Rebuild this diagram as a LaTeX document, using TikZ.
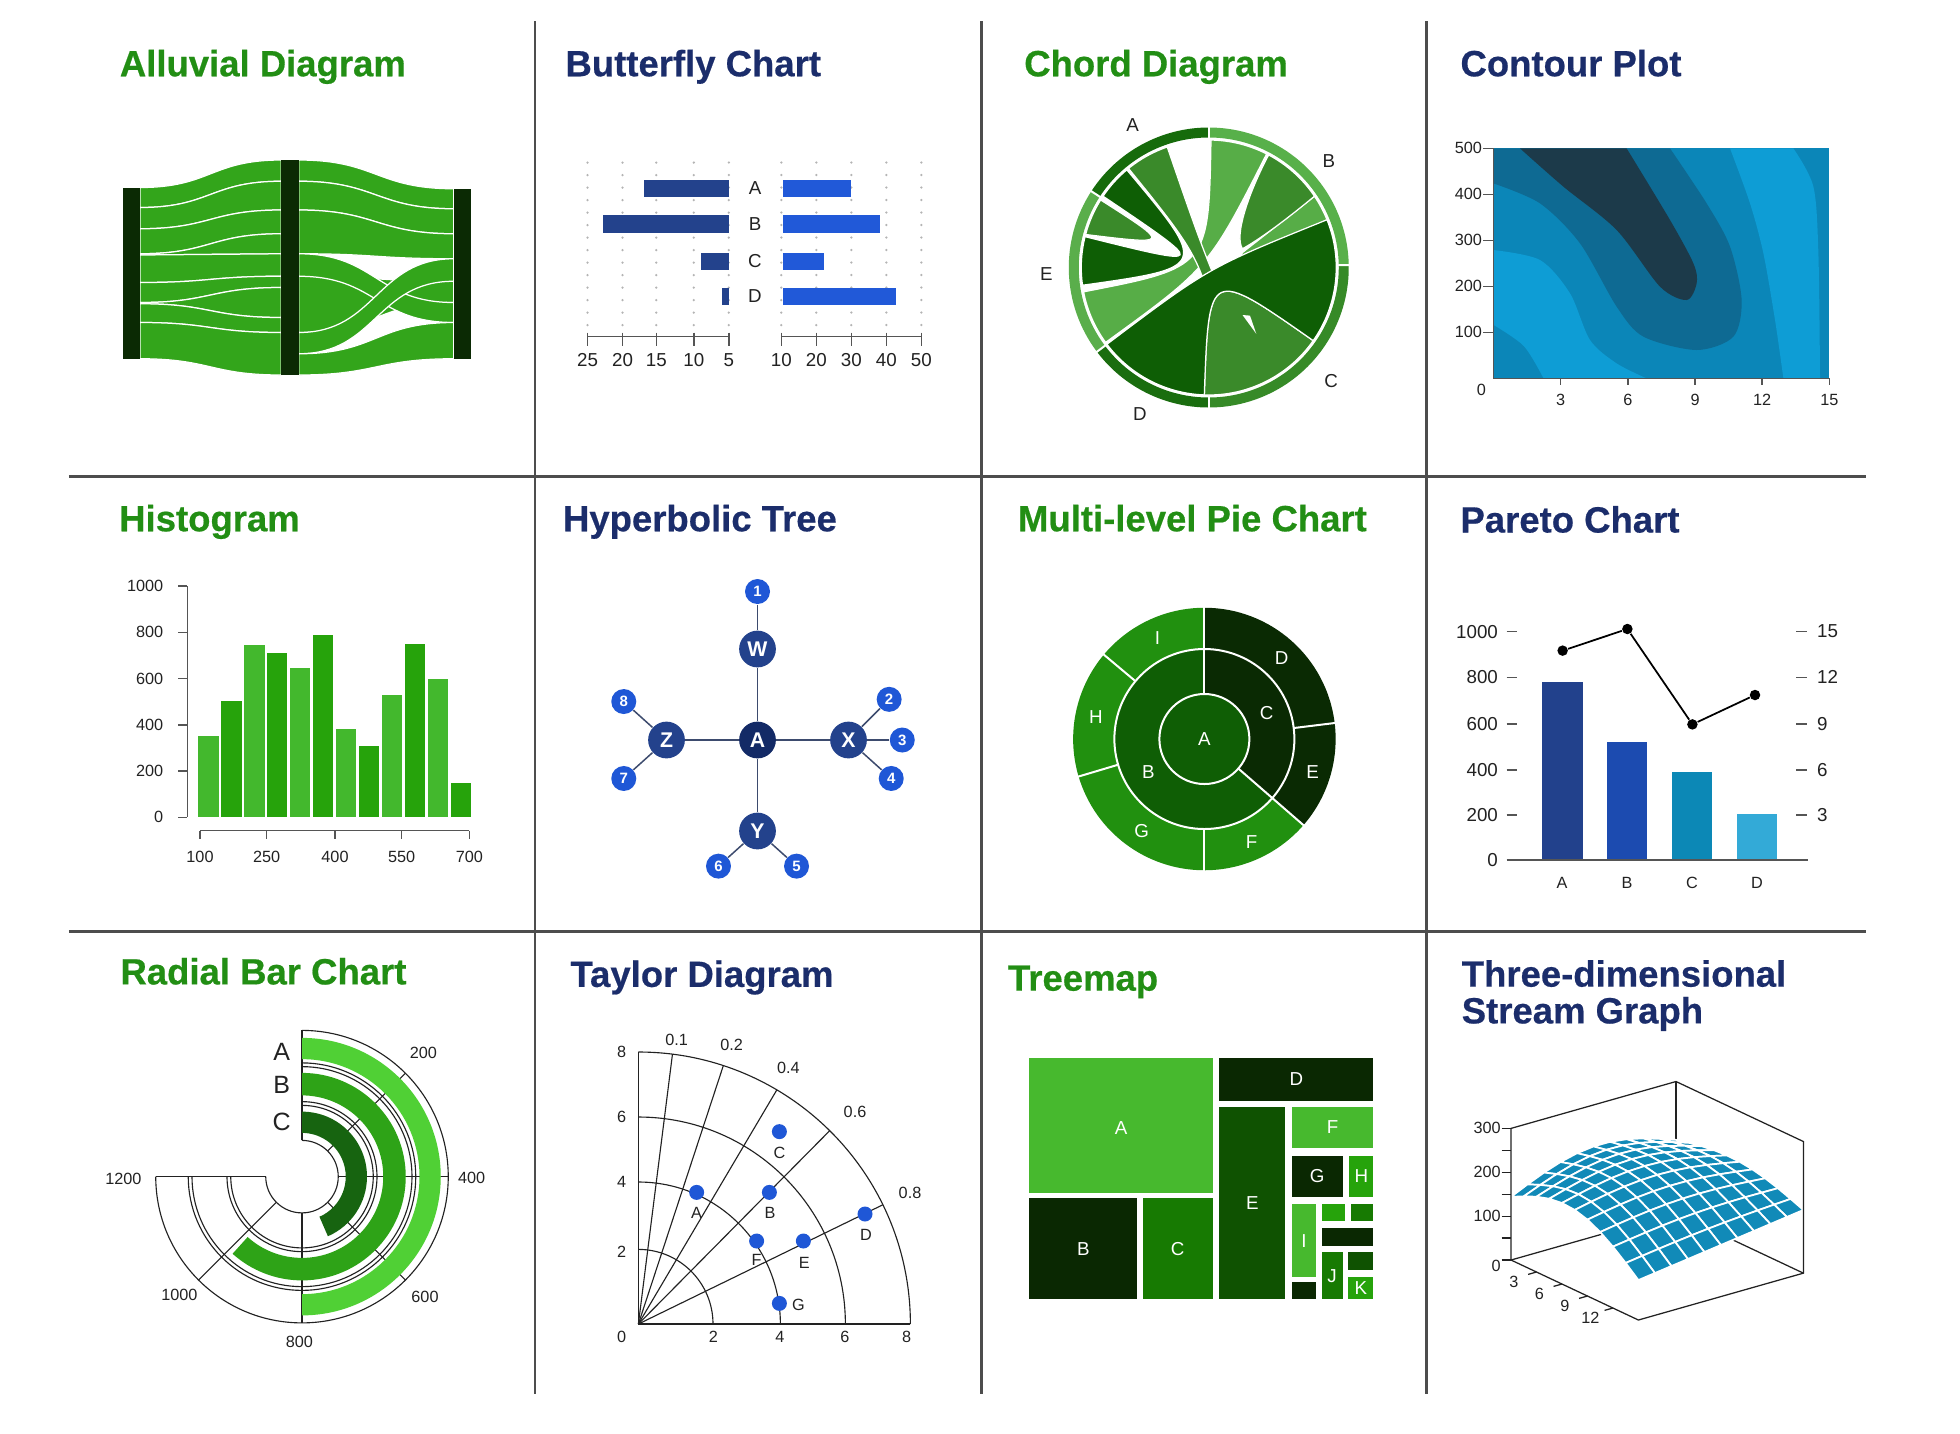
\documentclass[tikz,border=0pt]{standalone}
\usepackage{fontspec}
\setmainfont{Liberation Sans}
\newfontfamily\ttlfont[BoldFeatures={FakeBold=0.5}]{Liberation Sans}
\usetikzlibrary{positioning}

\definecolor{ttlgreen}{HTML}{228E14}
\definecolor{ttlnavy}{HTML}{1B2D6B}
\definecolor{rulegray}{HTML}{4D4D4D}
\definecolor{lblgray}{HTML}{222222}
\definecolor{axisgray}{HTML}{555555}
\definecolor{alluvgreen}{HTML}{33A51B}
\definecolor{alluvbar}{HTML}{0B2A04}
\definecolor{bfnavy}{HTML}{23428C}
\definecolor{bfblue}{HTML}{2159D8}
\definecolor{dotgray}{HTML}{B4B4B4}
\definecolor{ringA}{HTML}{166B0B}
\definecolor{ringB}{HTML}{58B04A}
\definecolor{ringC}{HTML}{368A27}
\definecolor{ringD}{HTML}{1A6D0F}
\definecolor{ringE}{HTML}{5AAE4B}
\definecolor{chdark}{HTML}{0E5E05}
\definecolor{chmid}{HTML}{3A8A2A}
\definecolor{chlight}{HTML}{57AD47}
\definecolor{conA}{HTML}{1C3A4A}
\definecolor{conB}{HTML}{0E6A93}
\definecolor{conC}{HTML}{0B86B8}
\definecolor{conD}{HTML}{0E9DD5}
\definecolor{hlight}{HTML}{43B82D}
\definecolor{hdark}{HTML}{26A30B}
\definecolor{hyroot}{HTML}{132A66}
\definecolor{hymid}{HTML}{23428C}
\definecolor{hyleaf}{HTML}{1F57D6}
\definecolor{hyedge}{HTML}{3D4B6E}
\definecolor{piedark}{HTML}{0A2A03}
\definecolor{piemid}{HTML}{0F5E05}
\definecolor{pielight}{HTML}{21900F}
\definecolor{parA}{HTML}{22418C}
\definecolor{parB}{HTML}{1C4BB0}
\definecolor{parC}{HTML}{0C88B6}
\definecolor{parD}{HTML}{33AAD7}
\definecolor{radA}{HTML}{50D035}
\definecolor{radB}{HTML}{2EA317}
\definecolor{radC}{HTML}{176410}
\definecolor{tmA}{HTML}{47B92E}
\definecolor{tmB}{HTML}{0A2802}
\definecolor{tmC}{HTML}{177A02}
\definecolor{tmE}{HTML}{0F5201}
\definecolor{tmH}{HTML}{26A30B}
\definecolor{surfblue}{HTML}{118AB8}

\newcommand{\flowband}[6]{%
  \filldraw[flow] (#1,#2) .. controls ({(#1+#4)/2},#2) and ({(#1+#4)/2},#5) .. (#4,#5)
    -- (#4,#6) .. controls ({(#1+#4)/2},#6) and ({(#1+#4)/2},#3) .. (#1,#3) -- cycle;}
\newcommand{\annseg}[5]{%
  \fill[#1] (#2:#5) arc[start angle=#2,end angle=#3,radius=#5]
    -- (#3:#4) arc[start angle=#3,end angle=#2,radius=#4] -- cycle;}
\newcommand{\ribbon}[5]{%
  \filldraw[#1, draw=white, line width=0.5pt] (#2:102) arc[start angle=#2,end angle=#3,radius=102]
    .. controls (0,0) .. (#4:102) arc[start angle=#4,end angle=#5,radius=102]
    .. controls (0,0) .. (#2:102) -- cycle;}
\newcommand{\sfpt}[3]{%
  \pgfmathsetmacro{\sfh}{(1-#2)*(1-#3)*144+#2*(1-#3)*167+(1-#2)*#3*91+#2*#3*144+(65-35*#2)*sin(180*#3)+50*sin(180*#2)*(1-#3)}%
  \coordinate (#1) at ({1208.8+132*#2+101.9*#3},{1008-37.5*#2+48*#3-0.351*\sfh});}

\begin{document}
\begin{tikzpicture}[x=0.5pt,y=-0.5pt]
    \tikzstyle{ttl}=[anchor=base west, inner sep=0pt, font=\ttlfont\fontsize{14.6}{16}\selectfont\bfseries]
    \tikzstyle{sep}=[draw=rulegray, line width=1pt]
    \tikzstyle{tick}=[inner sep=0pt, text=lblgray, font=\fontsize{6.5}{7}\selectfont]
    \tikzstyle{bigtick}=[tick, font=\fontsize{7.5}{8}\selectfont]
    \tikzstyle{axline}=[draw=axisgray, line width=0.6pt]
    \tikzstyle{flow}=[fill=alluvgreen, draw=white, line width=0.5pt]
    \tikzstyle{inlbl}=[inner sep=0pt, text=white, font=\fontsize{7.5}{8}\selectfont]
    \tikzstyle{hnode}=[circle, inner sep=0pt, text=white, font=\fontsize{8.5}{9}\selectfont\bfseries]
    \tikzstyle{hroot}=[hnode, fill=hyroot, minimum size=14.7pt]
    \tikzstyle{hmid}=[hnode, fill=hymid, minimum size=14.7pt]
    \tikzstyle{hleaf}=[hnode, fill=hyleaf, minimum size=10pt, font=\fontsize{6}{6}\selectfont\bfseries]
    \tikzstyle{edge from parent}=[draw=hyedge, line width=0.6pt]
    \tikzstyle{level 1}=[level distance=36.4pt, sibling distance=0pt]
    \tikzstyle{level 2}=[level distance=23pt, sibling distance=0pt]
    \tikzstyle{pdot}=[circle, fill=black, inner sep=0pt, minimum size=4.2pt]
    \tikzstyle{pline}=[draw=black, line width=0.7pt]
    \tikzstyle{rgrid}=[draw=lblgray, line width=0.45pt]
    \tikzstyle{tgrid}=[draw=lblgray, line width=0.45pt]
    \tikzstyle{tdot}=[circle, fill=hyleaf, inner sep=0pt, minimum size=6pt]
    \tikzstyle{surf}=[fill=surfblue, draw=white, line width=0.7pt, line join=round]
    \tikzstyle{box3}=[draw=lblgray, line width=0.5pt]

    \useasboundingbox (0,0) rectangle (1568,1147);
    \fill[white] (0,0) rectangle (1568,1147);

    \draw[sep] (428,17) -- (428,1115);
    \draw[sep] (785,17) -- (785,1115);
    \draw[sep] (1141,17) -- (1141,1115);
    \draw[sep] (55,381) -- (1493,381);
    \draw[sep] (55,745) -- (1493,745);

    \node[ttl, text=ttlgreen] (tAlluvial) at (95.5,61) {Alluvial Diagram};
    \node[ttl, text=ttlnavy] (tButterfly) at (452,61) {Butterfly Chart};
    \node[ttl, text=ttlgreen] (tChord) at (819,61) {Chord Diagram};
    \node[ttl, text=ttlnavy] (tContour) at (1168,61) {Contour Plot};
    \node[ttl, text=ttlgreen] (tHisto) at (95,425) {Histogram};
    \node[ttl, text=ttlnavy] (tHyper) at (450,425) {Hyperbolic Tree};
    \node[ttl, text=ttlgreen] (tPie) at (814,425) {Multi-level Pie Chart};
    \node[ttl, text=ttlnavy] (tPareto) at (1168,426) {Pareto Chart};
    \node[ttl, text=ttlgreen] (tRadial) at (96,787.5) {Radial Bar Chart};
    \node[ttl, text=ttlnavy] (tTaylor) at (456,789.5) {Taylor Diagram};
    \node[ttl, text=ttlgreen] (tTreemap) at (806,792.5) {Treemap};
    \node[ttl, text=ttlnavy] (tStream) at (1169,789.3) {Three-dimensional};
    \node[ttl, text=ttlnavy] (tStreamB) at (1169,818.7) {Stream Graph};

    \flowband{112}{150}{166}{225}{128}{145}
    \flowband{112}{166}{183}{225}{145}{168}
    \flowband{112}{183}{203}{225}{168}{187}
    \flowband{112}{203}{204}{225}{187}{203}
    \flowband{112}{204}{226}{225}{203}{221}
    \flowband{112}{226}{242}{225}{221}{230}
    \flowband{112}{242}{243}{225}{230}{254}
    \flowband{112}{243}{258}{225}{254}{266}
    \flowband{112}{258}{287}{225}{266}{300}
    \flowband{239}{128}{145}{363}{151}{167}
    \flowband{239}{145}{168}{363}{167}{187}
    \flowband{239}{168}{203}{363}{187}{207}
    \flowband{239}{221}{266}{363}{225}{242}
    \flowband{239}{203}{221}{363}{242}{258}
    \flowband{239}{266}{283}{363}{207}{225}
    \flowband{239}{283}{300}{363}{258}{287}
    \fill[alluvbar] (98,150) rectangle (112,287);
    \fill[alluvbar] (225,128) rectangle (239,300);
    \fill[alluvbar] (363,151) rectangle (377,287);

    \foreach \x in {470,498,525,555,583,625,653,681,709,737}
        \foreach \y in {130,140,...,260} \fill[dotgray] (\x,\y) circle[radius=1];
    \fill[bfnavy] (515,144) rectangle (583,157.3);
    \fill[bfnavy] (482,172) rectangle (583,186);
    \fill[bfnavy] (560.5,202) rectangle (583,216);
    \fill[bfnavy] (577.6,230) rectangle (583,244);
    \fill[bfblue] (626,144) rectangle (681,157.3);
    \fill[bfblue] (626,172) rectangle (704,186);
    \fill[bfblue] (626,202) rectangle (659,216);
    \fill[bfblue] (626,230) rectangle (717,244);
    \node[bigtick] (bfA) at (604,150.5) {A};
    \node[bigtick] (bfB) at (604,179) {B};
    \node[bigtick] (bfC) at (604,209) {C};
    \node[bigtick] (bfD) at (604,237) {D};
    \draw[axline] (470,269) -- (583,269);
    \draw[axline] (625,269) -- (737,269);
    \foreach \x/\l in {470/25,498/20,525/15,555/10,583/5,625/10,653/20,681/30,709/40,737/50}{
        \draw[axline] (\x,266) -- (\x,277);
        \node[bigtick] (bx\x) at (\x,288) {\l};
    }

    \begin{scope}[shift={(967,214)}, y=0.5pt]
        \annseg{ringA}{90}{147}{104}{112}
        \annseg{ringB}{1}{90}{104}{112}
        \annseg{ringC}{-90}{1}{104}{112}
        \annseg{ringD}{217}{270}{104}{112}
        \annseg{ringE}{147}{217}{104}{112}
        \foreach \a in {90,1,-90,217,147} \draw[white, line width=0.8pt] (\a:103) -- (\a:113);
        \ribbon{chlight}{63}{89}{191}{216}
        \ribbon{chmid}{109}{129}{275}{295}
        \ribbon{chdark}{130}{146}{166}{188}
        \filldraw[chmid, draw=white, line width=0.5pt] (148:102) arc[start angle=148,end angle=165,radius=102] .. controls (-30,18) .. (148:102) -- cycle;
        \filldraw[chmid, draw=white, line width=0.5pt] (268:102) arc[start angle=268,end angle=325,radius=102] .. controls (0,0) .. (268:102) -- cycle;
        \fill[white] (27,-38) -- (33,-38.5) -- (38,-53) -- cycle;
        \filldraw[chlight, draw=white, line width=0.5pt] (22:102) arc[start angle=22,end angle=34,radius=102] -- (27,12) -- (20,0) -- cycle;
        \filldraw[chmid, draw=white, line width=0.5pt] (34:102) arc[start angle=34,end angle=62,radius=102] .. controls (32,60) and (20,25) .. (27,15) .. controls (45,25) and (70,45) .. (34:102) -- cycle;
        \ribbon{chdark}{217}{268}{325}{382}
    \end{scope}
    \node[bigtick] (chA) at (906,100) {A};
    \node[bigtick] (chB) at (1063,129) {B};
    \node[bigtick] (chC) at (1065,305) {C};
    \node[bigtick] (chD) at (912,331) {D};
    \node[bigtick] (chE) at (837,219) {E};

    \fill[conC] (1194.7,118.7) rectangle (1463.5,302.7);
    \fill[conD] plot[smooth] coordinates {(1194.7,200) (1232,208) (1256,234.7) (1272,272) (1293.3,290.7) (1317.3,302.7)} -- (1194.7,302.7) -- cycle;
    \fill[conC] plot[smooth] coordinates {(1194.7,260) (1219,277) (1234.7,302.7)} -- (1194.7,302.7) -- cycle;
    \fill[conD] plot[smooth] coordinates {(1384,118.7) (1400,162.7) (1410.7,202.7) (1420,256) (1426.7,302.7)} -- (1456,302.7) -- plot[smooth] coordinates {(1456,302.7) (1454.7,202.7) (1450.7,149.3) (1434.7,118.7)} -- cycle;
    \fill[conB] (1194.7,118.7) -- plot[smooth] coordinates {(1194.7,146.7) (1232,162.7) (1264,194.7) (1293.3,245.3) (1314.7,269.3) (1357.3,280) (1386.7,269.3) (1393.3,240) (1384,197.3) (1365.3,162.7) (1336,118.7)} -- cycle;
    \fill[conA] plot[smooth] coordinates {(1216,118.7) (1250.7,149.3) (1293.3,184) (1328,229.3) (1349.3,240) (1357.3,226.7) (1354.7,210.7) (1336,176) (1301.3,118.7)} -- cycle;
    \draw[axline] (1194.7,118.7) -- (1194.7,302.7) -- (1463.5,302.7);
    \foreach \y/\l in {118.7/500,155.5/400,192.3/300,229.1/200,265.9/100}{
        \draw[axline] (1186.7,\y) -- (1194.7,\y);
        \node[tick, anchor=east] (cy\l) at (1186,\y) {\l};
    }
    \node[tick] (cy0) at (1185,312) {0};
    \foreach \x/\l in {1248.5/3,1302.2/6,1356/9,1409.7/12,1463.5/15}{
        \draw[axline] (\x,302.7) -- (\x,308);
        \node[tick] (cx\l) at (\x,320) {\l};
    }

    \foreach \v/\c [count=\i from 0] in {353/hlight,503/hdark,745/hlight,712/hdark,647/hlight,788/hdark,380/hlight,310/hdark,530/hlight,751/hdark,597/hlight,150/hdark}
        \fill[\c] ({158.7+18.35*\i},653.9) rectangle ({174.9+18.35*\i},{653.9-0.1851*\v});
    \draw[axline] (149.9,468.8) -- (149.9,653.9);
    \foreach \v in {0,200,...,1000}{
        \draw[axline] (142.7,{653.9-0.1851*\v}) -- (149.9,{653.9-0.1851*\v});
        \node[tick, anchor=east] (hy\v) at (131,{653.9-0.1851*\v}) {\v};
    }
    \draw[axline] (160,664.5) -- (375.5,664.5);
    \foreach \x/\l in {160/100,213.3/250,268/400,321.3/550,375.5/700}{
        \draw[axline] (\x,664.5) -- (\x,671);
        \node[tick] (hx\l) at (\x,685.3) {\l};
    }

    \node[hroot] (A) at (606,592) {A}
        child[grow=90] {node[hmid] (W) {W}
            child[grow=90] {node[hleaf] (n1) {1}}}
        child[grow=0] {node[hmid] (X) {X}
            child[grow=45] {node[hleaf] (n2) {2}}
            child[grow=0, level distance=21.5pt] {node[hleaf] (n3) {3}}
            child[grow=-42] {node[hleaf] (n4) {4}}}
        child[grow=-90] {node[hmid] (Y) {Y}
            child[grow=-42, level distance=21pt] {node[hleaf] (n5) {5}}
            child[grow=-138, level distance=21pt] {node[hleaf] (n6) {6}}}
        child[grow=180] {node[hmid] (Z) {Z}
            child[grow=-138] {node[hleaf] (n7) {7}}
            child[grow=138] {node[hleaf] (n8) {8}}};

    \begin{scope}[shift={(963.5,591.2)}, y=0.5pt]
        \annseg{piedark}{7}{90}{72}{105}
        \annseg{piedark}{-41}{7}{72}{105}
        \annseg{pielight}{-90}{-41}{72}{105}
        \annseg{pielight}{196.6}{270}{72}{105}
        \annseg{pielight}{140}{196.6}{72}{105}
        \annseg{pielight}{90}{140}{72}{105}
        \annseg{piedark}{-41}{90}{36}{72}
        \annseg{piemid}{90}{319}{36}{72}
        \fill[piemid] (0,0) circle[radius=36];
        \draw[white, line width=0.8pt] (0,0) circle[radius=36] (0,0) circle[radius=72];
        \foreach \a in {90,-41} \draw[white, line width=0.8pt] (\a:36) -- (\a:106);
        \foreach \a in {7,140,196.6,270} \draw[white, line width=0.8pt] (\a:72) -- (\a:106);
    \end{scope}
    \node[inlbl] (pcA) at (963.5,591.2) {A};
    \node[inlbl] (pcB) at (918.7,617.3) {B};
    \node[inlbl] (pcC) at (1013.3,570.1) {C};
    \node[inlbl] (pcD) at (1025.3,526.7) {D};
    \node[inlbl] (pcE) at (1050.1,617.3) {E};
    \node[inlbl] (pcF) at (1001.3,673.3) {F};
    \node[inlbl] (pcG) at (913.3,664.5) {G};
    \node[inlbl] (pcH) at (876.8,573.3) {H};
    \node[inlbl] (pcI) at (925.9,510.7) {I};

    \fill[parA] (1233.3,688) rectangle (1266.1,545.3);
    \fill[parB] (1285.3,688) rectangle (1317.9,593.3);
    \fill[parC] (1337.3,688) rectangle (1369.9,617.9);
    \fill[parD] (1389.3,688) rectangle (1421.9,651.5);
    \draw[axline] (1205.3,688) -- (1446.7,688);
    \foreach \y/\l/\r in {505.3/1000/15,541.9/800/12,579.2/600/9,616/400/6,652/200/3}{
        \draw[axline] (1205.3,\y) -- (1213.9,\y);
        \draw[axline] (1436.8,\y) -- (1445.3,\y);
        \node[bigtick, anchor=east] (ply\l) at (1198.7,\y) {\l};
        \node[bigtick, anchor=west] (pry\r) at (1453.3,\y) {\r};
    }
    \node[bigtick, anchor=east] (ply0) at (1198.7,688) {0};
    \node[pdot] (pA) at (1250.1,520.5) {};
    \node[pdot] (pB) at (1301.9,503.2) {};
    \node[pdot] (pC) at (1353.9,579.5) {};
    \node[pdot] (pD) at (1404,556) {};
    \draw[pline] (pA) -- (pB) -- (pC) -- (pD);
    \node[tick] (pcatA) at (1249.7,706.7) {A};
    \node[tick] (pcatB) at (1301.6,706.7) {B};
    \node[tick] (pcatC) at (1353.6,706.7) {C};
    \node[tick] (pcatD) at (1405.6,706.7) {D};

    \begin{scope}[shift={(241.6,941.3)}, y=0.5pt]
        \foreach \r in {29,57,60,88,91,117} \draw[rgrid] (90:\r) arc[start angle=90,end angle=-180,radius=\r];
        \foreach \a in {90,45,0,-45,-90,-135,-180} \draw[rgrid] (\a:29) -- (\a:117);
        \annseg{radA}{90}{-90}{94}{111}
        \annseg{radB}{90}{-132}{65}{83}
        \annseg{radC}{90}{-66.5}{35}{52}
    \end{scope}
    \node[tick, font=\fontsize{10}{11}\selectfont] (rA) at (225.3,841.3) {A};
    \node[tick, font=\fontsize{10}{11}\selectfont] (rB) at (225.3,868) {B};
    \node[tick, font=\fontsize{10}{11}\selectfont] (rC) at (225.3,897.3) {C};
    \node[tick] (r200) at (338.7,842.7) {200};
    \node[tick] (r400) at (377.3,942.7) {400};
    \node[tick] (r600) at (340,1037.3) {600};
    \node[tick] (r800) at (239.5,1073.3) {800};
    \node[tick] (r1000) at (143.5,1036) {1000};
    \node[tick] (r1200) at (98.7,943.5) {1200};

    \begin{scope}[shift={(510.7,1059.2)}, y=0.5pt]
        \foreach \r in {59.7,113.6,165.6,217.6} \draw[tgrid] (0:\r) arc[start angle=0,end angle=90,radius=\r];
        \draw[tgrid] (0,217.6) -- (0,0) -- (217.6,0);
        \foreach \a in {82.8,71.8,59.4,45.3,26} \draw[tgrid] (0,0) -- (\a:217.6);
    \end{scope}
    \foreach \l/\x/\y in {0.1/541.3/832,0.2/585.3/836,0.4/630.7/854.1,0.6/684/889.3,0.8/728/954.7}
        \node[tick] (tc\l) at (\x,\y) {\l};
    \foreach \l/\y in {8/841.3,6/893.3,4/945.9,2/1001.3,0/1069.3}
        \node[tick] (tsy\l) at (497.3,\y) {\l};
    \foreach \l/\x in {2/570.7,4/624,6/676,8/725.3}
        \node[tick] (tsx\l) at (\x,1069.3) {\l};
    \node[tdot] (tA) at (557.3,953.9) {};
    \node[tdot] (tB) at (615.5,953.9) {};
    \node[tdot] (tC) at (623.5,905.3) {};
    \node[tdot] (tD) at (692,971.2) {};
    \node[tdot] (tE) at (642.7,992.8) {};
    \node[tdot] (tF) at (605.3,992.8) {};
    \node[tdot] (tG) at (623.5,1042.7) {};
    \node[tick] (tlA) at (557.3,970.1) {A};
    \node[tick] (tlB) at (616,970.1) {B};
    \node[tick] (tlC) at (623.5,922.7) {C};
    \node[tick] (tlD) at (692.8,988) {D};
    \node[tick] (tlE) at (643.5,1010.1) {E};
    \node[tick] (tlF) at (605.3,1008) {F};
    \node[tick] (tlG) at (638.7,1044) {G};

    \foreach \x/\y/\X/\Y/\c in {823.5/846.7/970.1/954.7/tmA, 823.5/958.7/909.9/1039.2/tmB, 914.1/958.7/970.1/1039.2/tmC,
        975.5/846.7/1098.7/880.5/tmB, 975.5/885.3/1028.3/1039.2/tmE, 1033.6/885.3/1098.7/918.7/tmA,
        1033.6/924.5/1074.1/957.3/tmB, 1079.5/924.5/1098.7/957.3/tmH, 1033.6/963.2/1052.8/1021.9/tmA,
        1057.3/963.2/1076/976.8/tmH, 1080.5/963.2/1098.7/976.8/tmC, 1057.3/982.7/1098.7/996.5/tmB,
        1057.3/1001.9/1074.1/1039.2/tmC, 1078.7/1001.9/1098.7/1016/tmE, 1078.7/1021.3/1098.7/1039.2/tmH,
        1033.6/1025.3/1052.8/1039.2/tmB}
        \fill[\c] (\x,\y) rectangle (\X,\Y);
    \node[inlbl] (tmlA) at (896.8,902.7) {A};
    \node[inlbl] (tmlB) at (866.7,999) {B};
    \node[inlbl] (tmlC) at (942.1,999) {C};
    \node[inlbl] (tmlD) at (1037.1,863.6) {D};
    \node[inlbl] (tmlE) at (1001.9,962.3) {E};
    \node[inlbl] (tmlF) at (1066.1,902) {F};
    \node[inlbl] (tmlG) at (1053.8,940.9) {G};
    \node[inlbl] (tmlH) at (1089.1,940.9) {H};
    \node[inlbl] (tmlI) at (1043.2,992.5) {I};
    \node[inlbl] (tmlJ) at (1065.7,1020.5) {J};
    \node[inlbl] (tmlK) at (1088.7,1030.2) {K};

    \draw[box3] (1208.8,1008) -- (1340.8,970.5) -- (1442.7,1018.5);
    \draw[box3] (1340.8,865.2) -- (1340.8,970.5);
    \foreach \i in {9,...,0}{
        \foreach \j in {0,...,9}{
            \pgfmathsetmacro{\ua}{\i/10}\pgfmathsetmacro{\ub}{(\i+1)/10}
            \pgfmathsetmacro{\va}{\j/10}\pgfmathsetmacro{\vb}{(\j+1)/10}
            \sfpt{q1}{\ua}{\va}\sfpt{q2}{\ub}{\va}\sfpt{q3}{\ub}{\vb}\sfpt{q4}{\ua}{\vb}
            \filldraw[surf] (q1) -- (q2) -- (q3) -- (q4) -- cycle;
        }
    }
    \draw[box3] (1208.8,902.7) -- (1340.8,865.2) -- (1442.7,913.2) -- (1442.7,1018.5) -- (1310.7,1056) -- (1208.8,1008) -- cycle;
    \foreach \h in {0,50,...,300} \draw[box3] (1201.3,{1008-0.351*\h}) -- (1208.8,{1008-0.351*\h});
    \foreach \h in {100,200,300} \node[tick, anchor=east] (sz\h) at (1201,{1008-0.351*\h}) {\h};
    \node[tick, anchor=east] (sz0) at (1201,1013) {0};
    \foreach \v/\l in {0.2/3,0.4/6,0.6/9,0.8/12}{
        \draw[box3] ({1208.8+101.9*\v},{1008+48*\v}) -- ({1202.1+101.9*\v},{1009.9+48*\v});
        \node[tick] (sv\l) at ({1190.8+101.9*\v},{1016+48*\v}) {\l};
    }
\end{tikzpicture}
\end{document}
